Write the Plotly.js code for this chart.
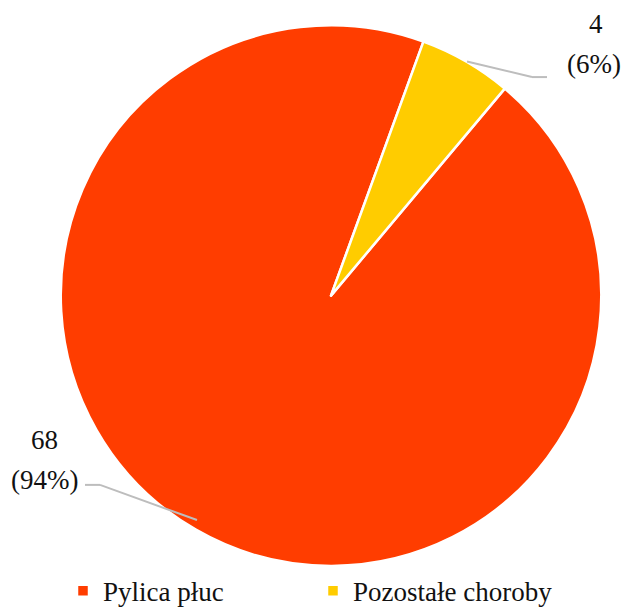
<!DOCTYPE html>
<html>
<head>
<meta charset="utf-8">
<script src="https://cdn.plot.ly/plotly-3.0.1.min.js"></script>
<style>html,body{margin:0;padding:0;background:#fff;}#chart{width:624px;height:616px;}</style>
</head>
<body>
<div id="chart"></div>
<script>
const categories = ["Pylica płuc", "Pozostałe choroby"];
const counts = [68, 4];
const percentLabels = ["94%", "6%"];
const colors = ["#FF3D00", "#FFCC00"];

const W = 624, H = 616;
const px = (x) => x / W;
const py = (y) => 1 - y / H;
const serif = "Liberation Serif";

const trace = {
  type: "pie",
  labels: categories,
  values: counts,
  sort: false,
  direction: "clockwise",
  rotation: 40,
  marker: {colors: colors, line: {color: "#ffffff", width: 2.5}},
  textinfo: "none",
  hoverinfo: "label+value+percent",
  domain: {x: [px(55), px(607)], y: [py(580), py(26)]}
};

const labelFont = {family: serif, size: 27, color: "#111"};
const ann = (text, x, y) => ({text: text, x: px(x), y: py(y), xref: "paper", yref: "paper",
  showarrow: false, font: labelFont, xanchor: "center", yanchor: "middle"});
const annotations = [
  ann(String(counts[0]), 45, 451),
  ann("(" + percentLabels[0] + ")", 45, 492),
  ann(String(counts[1]), 596, 25),
  ann("(" + percentLabels[1] + ")", 594, 66)
];

const lineStyle = {color: "#BDBDBD", width: 2};
const shapes = [
  {type: "line", xref: "paper", yref: "paper", x0: px(85), y0: py(497), x1: px(100), y1: py(497), line: lineStyle},
  {type: "line", xref: "paper", yref: "paper", x0: px(100), y0: py(497), x1: px(197), y1: py(533), line: lineStyle},
  {type: "line", xref: "paper", yref: "paper", x0: px(467), y0: py(63), x1: px(532), y1: py(79), line: lineStyle},
  {type: "line", xref: "paper", yref: "paper", x0: px(532), y0: py(79), x1: px(547), y1: py(79), line: lineStyle}
];

const layout = {
  width: W, height: H,
  margin: {l: 0, r: 0, t: 0, b: 0},
  paper_bgcolor: "#ffffff",
  font: {family: serif, size: 26, color: "#111"},
  showlegend: true,
  legend: {orientation: "h", x: px(63), y: py(606), xanchor: "left", yanchor: "middle",
           font: {family: serif, size: 27, color: "#111"}, entrywidth: 205, entrywidthmode: "pixels",
           traceorder: "normal"},
  annotations: annotations,
  shapes: shapes
};

Plotly.newPlot("chart", [trace], layout, {displayModeBar: false, staticPlot: true});
</script>
</body>
</html>
